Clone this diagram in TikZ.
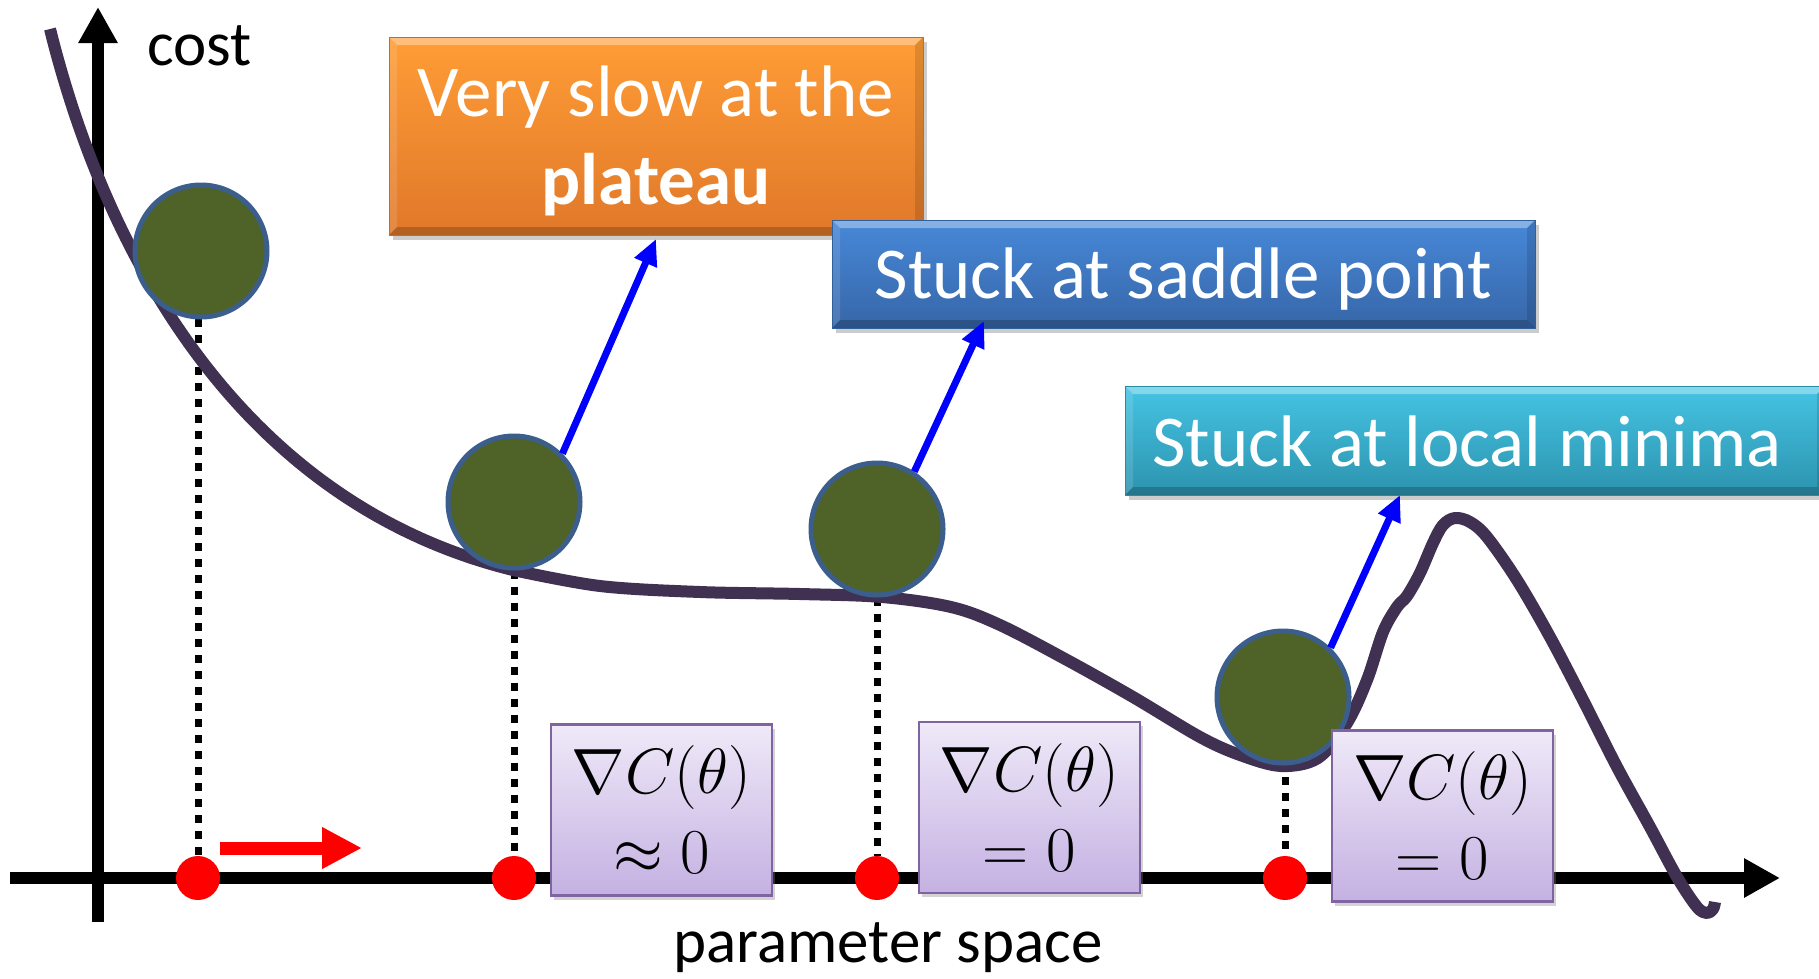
\RequirePackage{fix-cm}
\documentclass[tikz,border=0pt]{standalone}
\usepackage{fontspec}
\setmainfont{Carlito}
\usetikzlibrary{arrows.meta,shadows,calc}
\definecolor{curvec}{HTML}{403152}
\definecolor{ballfill}{HTML}{4F6228}
\definecolor{balldraw}{HTML}{3B5E8C}
\definecolor{orangetop}{HTML}{FF9D36}
\definecolor{orangebot}{HTML}{E0782A}
\definecolor{orangeedge}{HTML}{C86A20}
\definecolor{bluetop}{HTML}{4788D8}
\definecolor{bluebot}{HTML}{3766A8}
\definecolor{blueedge}{HTML}{30609C}
\definecolor{cyantop}{HTML}{45C4E4}
\definecolor{cyanbot}{HTML}{2C93AE}
\definecolor{cyanedge}{HTML}{2A8AA4}
\definecolor{purptop}{HTML}{EFE9F8}
\definecolor{purpbot}{HTML}{C4B1E2}
\definecolor{purpedge}{HTML}{8064A2}
\newcommand{\lowr}[2]{\raisebox{-#1}[\height][\depth]{#2}}
\pgfdeclarelayer{bg}
\pgfsetlayers{bg,main}
\begin{document}
\begin{tikzpicture}[x=1pt,y=-1pt,
  axisline/.style={line width=12pt,-{Triangle[length=36pt,width=37pt]}},
  dotline/.style={line width=7pt,dash pattern=on 8pt off 8pt},
  ball/.style={circle,fill=ballfill,draw=balldraw,line width=5pt,minimum size=132pt,inner sep=0pt},
  rdot/.style={circle,fill=red,minimum size=44pt,inner sep=0pt},
  gradbox/.style={rectangle,draw=purpedge,line width=2.5pt,top color=purptop,bottom color=purpbot,
     minimum width=221pt,minimum height=171pt,inner sep=0pt,align=center,
     font=\fontsize{64}{80}\selectfont,
     drop shadow={shadow xshift=3pt,shadow yshift=-4pt,opacity=0.35}},
  bevel/.style={path picture={
     \coordinate (pnw) at (path picture bounding box.north west);
     \coordinate (pne) at (path picture bounding box.north east);
     \coordinate (psw) at (path picture bounding box.south west);
     \coordinate (pse) at (path picture bounding box.south east);
     \fill[white,opacity=0.35] (pnw) -- (pne) -- ($(pne)+(-8,8)$) -- ($(pnw)+(8,8)$) -- cycle;
     \fill[white,opacity=0.12] (pnw) -- ($(pnw)+(8,8)$) -- ($(psw)+(8,-8)$) -- (psw) -- cycle;
     \fill[black,opacity=0.12] (pne) -- ($(pne)+(-8,8)$) -- ($(pse)+(-8,-8)$) -- (pse) -- cycle;
     \fill[black,opacity=0.2] (psw) -- ($(psw)+(8,-8)$) -- ($(pse)+(-8,-8)$) -- (pse) -- cycle;
  }},
  cbox/.style={rectangle,line width=1pt,inner sep=0pt,align=center,text=white,
     font=\fontsize{73}{88}\selectfont,bevel,
     drop shadow={shadow xshift=4pt,shadow yshift=-5pt,opacity=0.4}},
  bluearrow/.style={blue,line width=7pt,-{Triangle[length=26pt,width=23pt]}},
  lbl/.style={font=\fontsize{63}{75}\selectfont,inner sep=0pt}
]
\useasboundingbox (0,0) rectangle (1819,978);
\clip (0,0) rectangle (1819,978);

% balls
\node[ball] (b1) at (201,251) {};
\node[ball] (b2) at (514,502) {};
\node[ball] (b3) at (877,529) {};
\node[ball] (b4) at (1283,697) {};

% red dots
\node[rdot] (r1) at (198,878) {};
\node[rdot] (r2) at (514,878) {};
\node[rdot] (r3) at (877,878) {};
\node[rdot] (r4) at (1285,878) {};

% red arrow
\coordinate (ra1) at (220,848);
\coordinate (ra2) at (362,848);
\draw[red,line width=13pt,-{Triangle[length=40pt,width=39pt]}] (ra1) -- (ra2);

% gradient boxes
\node[gradbox] (g1) at (661.5,810) {$\nabla C(\theta)$\\$\approx 0$};
\node[gradbox] (g2) at (1029.5,807.5) {$\nabla C(\theta)$\\$= 0$};
\node[gradbox] (g3) at (1442.5,816) {$\nabla C(\theta)$\\$= 0$};

% coloured boxes
\node[cbox,draw=orangeedge,top color=orangetop,bottom color=orangebot,
      minimum width=534pt,minimum height=198pt] (ob) at (656,136)
      {\lowr{5pt}{Very slow at the}\\\lowr{5pt}{\textbf{plateau}}};
\node[cbox,draw=blueedge,top color=bluetop,bottom color=bluebot,
      minimum width=703pt,minimum height=108pt] (bb) at (1183.5,274)
      {\lowr{5pt}{Stuck at saddle point}};
\node[cbox,draw=cyanedge,top color=cyantop,bottom color=cyanbot,
      minimum width=700pt,minimum height=109pt] (cb) at (1475,440.5)
      {\hspace*{-16pt}\lowr{1pt}{Stuck at local minima}};

% blue arrows
\coordinate (t1) at (656,239);
\coordinate (t2) at (984,321);
\coordinate (t3) at (1400,495);
\draw[bluearrow] (b2.45) -- (t1);
\draw[bluearrow] (b3.57) -- (t2);
\draw[bluearrow] (b4.46) -- (t3);

% labels
\node[lbl,anchor=base west] (cost) at (147,65) {cost};
\node[lbl,anchor=base] (ps) at (888,962) {parameter space};

\begin{pgfonlayer}{bg}
  \coordinate (ya) at (98,922);
  \coordinate (yb) at (98,7);
  \coordinate (xa) at (10,878);
  \coordinate (xb) at (1780,878);
  \coordinate (d1) at (198,319);
  \draw[axisline] (ya) -- (yb);
  \draw[axisline] (xa) -- (xb);
  \draw[dotline] (d1) -- (r1.north);
  \draw[dotline] (b2.south) -- (r2.north);
  \draw[dotline] (b3.south) -- (r3.north);
  \draw[dotline] (1285,777) -- (r4.north);
  \draw[curvec,line width=12pt,line join=round]
    (50,29) .. controls (110,270) and (250,505) .. (513,570)
    -- plot[smooth,tension=0.55] coordinates {
    (513,570) (600,586) (700,592) (800,594) (882,597) (951,607)
    (1000,625) (1067,660) (1133,697) (1200,737) (1240,755) (1281,766) (1318,758)
    (1347,723) (1367,680) (1383,632) (1397,607) (1407,596) (1420,573) (1433,543)
    (1443,525) (1455,518) (1470,522) (1487,537) (1517,580) (1550,637) (1583,700)
    (1617,767) (1650,827) (1677,877) (1697,907) (1707,913) (1713,909) (1715,902)};
\end{pgfonlayer}
\end{tikzpicture}
\end{document}
